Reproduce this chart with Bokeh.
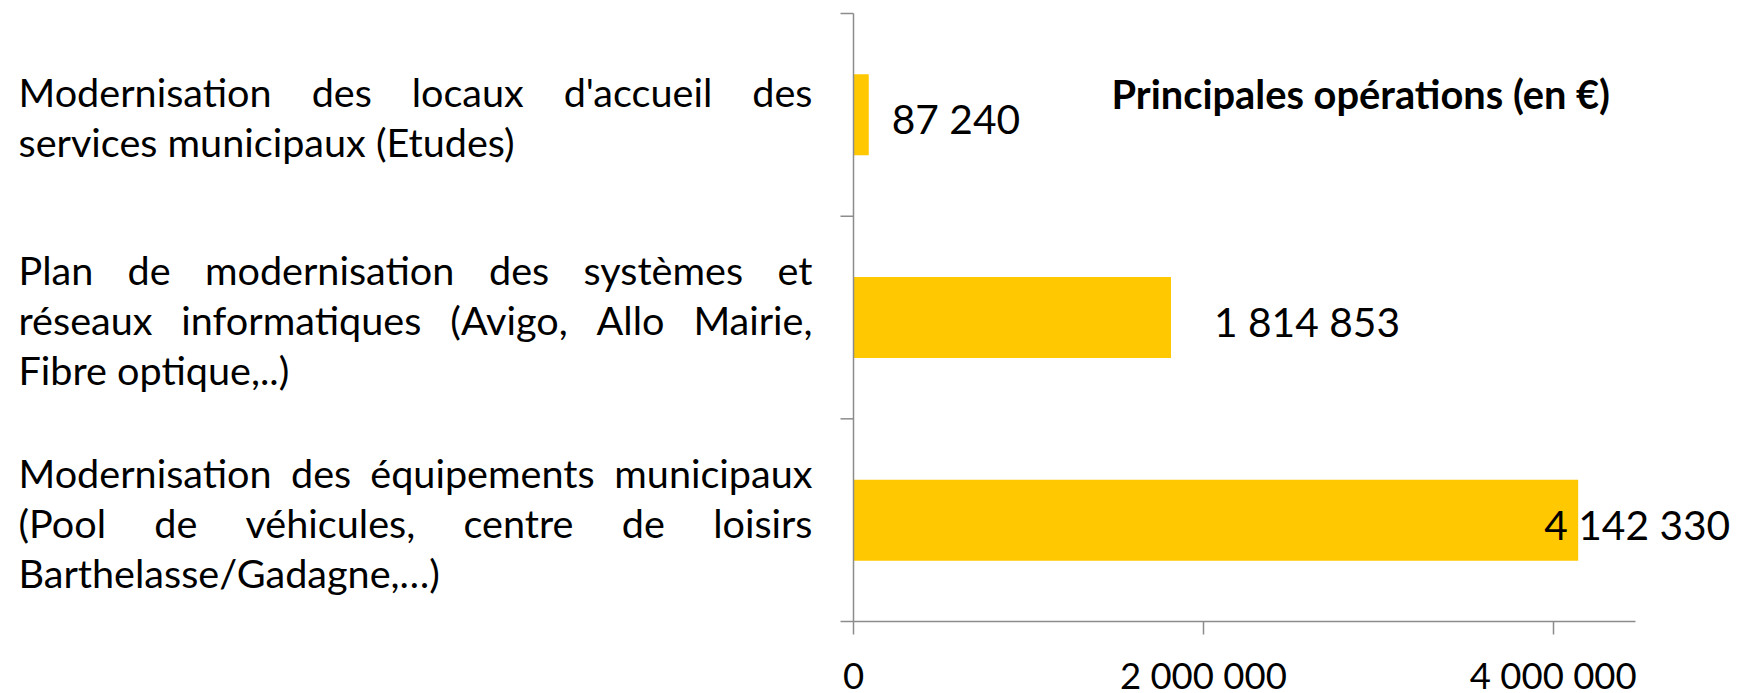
import glob
import os
import subprocess

from bokeh.plotting import figure
from bokeh.models import Range1d, FixedTicker, LabelSet, ColumnDataSource
from bokeh.core.properties import value
from bokeh.embed import file_html
from bokeh.resources import INLINE

# ---------------- data ----------------
category_lines = [
    ["Modernisation des locaux d'accueil des",
     "services municipaux (Etudes)"],
    ["Plan de modernisation des systèmes et",
     "réseaux informatiques (Avigo, Allo Mairie,",
     "Fibre optique,..)"],
    ["Modernisation des équipements municipaux",
     "(Pool de véhicules, centre de loisirs",
     "Barthelasse/Gadagne,…)"],
]
categories = [" ".join(lines) for lines in category_lines]
values = [87240, 1814853, 4142330]
x_ticks = [0, 2000000, 4000000]
x_tick_labels = ["0", "2 000 000", "4 000 000"]
title_text = "Principales opérations (en €)"

# ---------------- style / layout ----------------
W, H = 1738, 693
PL, PT, PW, PH = 853, 13, 782, 608       # plot area (canvas px)
XMAX = 4.47e6
N = len(categories)
BAR_COLOR = "#FFC800"
AX_COLOR = "#8C8C8C"
FONT = "Lato"
TEXT_L, TEXT_R = 18, 812                 # justified text block (canvas px)
LINE_STEP = 50                           # px between text lines
TICK_LEN = 13
label_dx_px = [23, 43, -34]              # value-label offsets from bar ends (px)


def find_font(bold=False):
    style = "Bold" if bold else "Regular"
    try:
        out = subprocess.run(["fc-match", "-f", "%{file}", f"Lato:style={style}"],
                             capture_output=True, text=True, timeout=5).stdout
        if out and "lato" in out.lower() and os.path.exists(out):
            return out
    except Exception:
        pass
    for root in ["/usr/share/fonts", "/usr/local/share/fonts",
                 os.path.expanduser("~/.fonts"), os.path.expanduser("~/.local/share/fonts")]:
        hits = glob.glob(os.path.join(root, "**", f"Lato-{style}.*"), recursive=True)
        if hits:
            return hits[0]
    return None


_fonts = {}


def text_width(text, size, bold=False):
    if bold not in _fonts:
        f = None
        try:
            from PIL import ImageFont
            path = find_font(bold)
            if path:
                f = ImageFont.truetype(path, 200)
        except Exception:
            f = None
        _fonts[bold] = f
    f = _fonts[bold]
    if f is None:
        return len(text) * 0.5 * size
    return f.getlength(text) * size / 200.0


def fit_size(text, target, bold=False):
    return target / text_width(text, 1.0, bold)


CAT_SIZE = fit_size("Barthelasse/Gadagne,…)", 422)
VAL_SIZE = fit_size("1 814 853", 186)
TICK_SIZE = fit_size("2 000 000", 167)
TITLE_SIZE = fit_size(title_text, 498, bold=True)

XPX = XMAX / PW      # data units per px (x)
YPX = N / PH         # data units per px (y)


def dx(cx):
    return (cx - PL) * XPX


def dy(cy):
    return (PT + PH - cy) * YPX


p = figure(width=W, height=H, output_backend="svg", toolbar_location=None,
           title=None, y_axis_location=None,
           x_range=Range1d(dx(0), dx(W)), y_range=Range1d(dy(H), dy(0)),
           min_border=0)
p.outline_line_color = None
p.xgrid.visible = False
p.ygrid.visible = False
p.background_fill_color = "white"
p.border_fill_color = "white"

y_pos = [N - i - 0.5 for i in range(N)]
p.hbar(y=y_pos, right=values, left=0, height=0.4, color=BAR_COLOR, line_color=None)

# value axis
ax = p.xaxis[0]
ax.fixed_location = 0
ax.bounds = (0, XMAX)
ax.ticker = FixedTicker(ticks=x_ticks, minor_ticks=[])
ax.major_label_overrides = {t: s for t, s in zip(x_ticks, x_tick_labels)}
ax.axis_line_color = AX_COLOR
ax.axis_line_width = 1.5
ax.major_tick_line_color = AX_COLOR
ax.major_tick_line_width = 1.5
ax.major_tick_out = TICK_LEN
ax.major_tick_in = 0
ax.minor_tick_out = 0
ax.minor_tick_in = 0
ax.major_label_standoff = 18
ax.major_label_text_font = FONT
ax.major_label_text_font_size = f"{TICK_SIZE:.1f}px"
ax.major_label_text_color = "black"

# category axis: line and boundary ticks
bounds = list(range(N + 1))
p.segment(x0=[0], y0=[0], x1=[0], y1=[N], line_color=AX_COLOR, line_width=1.5)
p.segment(x0=[-TICK_LEN * XPX] * len(bounds), y0=bounds, x1=[0] * len(bounds), y1=bounds,
          line_color=AX_COLOR, line_width=1.5)


def add_labels(xs, ys, texts, size, align="left", style="normal"):
    src = ColumnDataSource(dict(x=xs, y=ys, text=texts))
    p.add_layout(LabelSet(x="x", y="y", text="text", source=src,
                          text_align=align, text_baseline="alphabetic",
                          text_font=value(FONT), text_font_style=style,
                          text_font_size=value(f"{size:.1f}px"),
                          text_color="black"))


# value labels
add_labels([v + d * XPX for v, d in zip(values, label_dx_px)],
           [yc - 19.5 * YPX for yc in y_pos],
           [f"{v:,}".replace(",", " ") for v in values], VAL_SIZE)

# title
add_labels([dx(1111)], [y_pos[0] + 6.3 * YPX], [title_text], TITLE_SIZE, style="bold")

# justified category labels
left = dict(x=[], y=[], text=[])
right = dict(x=[], y=[], text=[])
for ci, lines in enumerate(category_lines):
    yc = y_pos[ci]
    n = len(lines)
    for li, line in enumerate(lines):
        y = yc - (17.5 + (li - (n - 1) / 2) * LINE_STEP) * YPX
        words = line.split(" ")
        if li < n - 1 and len(words) > 1:
            widths = [text_width(w, CAT_SIZE) for w in words]
            gap = (TEXT_R - TEXT_L - sum(widths)) / (len(words) - 1)
            xpos = TEXT_L
            for w, wd in zip(words[:-1], widths[:-1]):
                left["x"].append(dx(xpos)); left["y"].append(y); left["text"].append(w)
                xpos += wd + gap
            right["x"].append(dx(TEXT_R)); right["y"].append(y); right["text"].append(words[-1])
        else:
            left["x"].append(dx(TEXT_L)); left["y"].append(y); left["text"].append(line)

add_labels(left["x"], left["y"], left["text"], CAT_SIZE, align="left")
add_labels(right["x"], right["y"], right["text"], CAT_SIZE, align="right")

open("out.html", "w").write(file_html(p, INLINE))
